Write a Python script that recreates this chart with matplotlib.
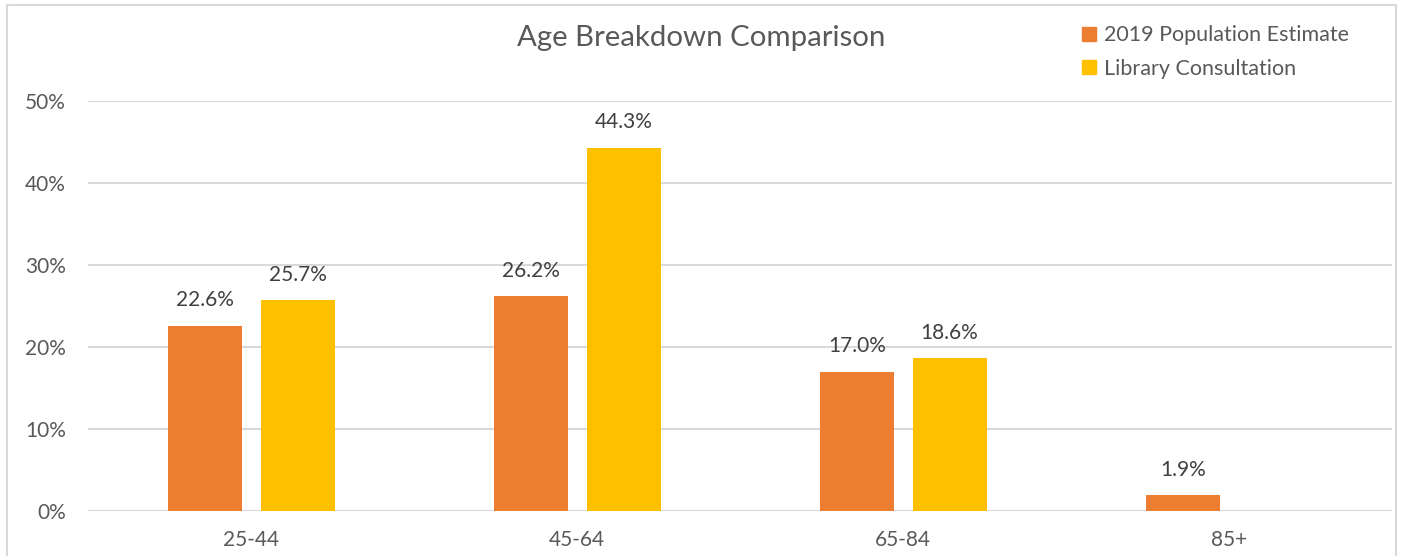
import numpy as np
import matplotlib.pyplot as plt
from matplotlib.patches import Patch, Rectangle

categories = ['25-44', '45-64', '65-84', '85+']
population = [22.6, 26.2, 17.0, 1.9]
library = [25.7, 44.3, 18.6, np.nan]
series_names = ['2019 Population Estimate', 'Library Consultation']
colors = ['#ED7D31', '#FFC000']
text_color = '#595959'
label_color = '#404040'

plt.rcParams['font.family'] = ['Lato', 'DejaVu Sans']

fig = plt.figure(figsize=(14.02, 5.56), dpi=100)
ax = fig.add_axes([88 / 1402, 1 - 511 / 556, (1392 - 88) / 1402, (511 - 101) / 556])

x = np.arange(len(categories))
w = 0.227
b1 = ax.bar(x - 0.142, np.array(population) / 100, w, color=colors[0], zorder=3)
b2 = ax.bar(x + 0.143, np.nan_to_num(library) / 100, w, color=colors[1], zorder=3)

ax.bar_label(b1, labels=[f'{v:.1f}%' for v in population], padding=11,
             fontsize=15, color=label_color)
ax.bar_label(b2, labels=['' if np.isnan(v) else f'{v:.1f}%' for v in library],
             padding=11, fontsize=15, color=label_color)

ax.set_xlim(-0.5, len(categories) - 0.5)
ax.set_ylim(0, 0.5)
ax.set_yticks(np.arange(0, 0.51, 0.1))
ax.set_yticklabels([f'{int(round(t * 100))}%' for t in np.arange(0, 0.51, 0.1)])
ax.set_xticks(x)
ax.set_xticklabels(categories)
ax.tick_params(axis='both', length=0, labelsize=15, colors=text_color)
ax.tick_params(axis='x', pad=14)
ax.tick_params(axis='y', pad=16)
ax.grid(axis='y', color='#d9d9d9', linewidth=1.5, zorder=0)
for s in ax.spines.values():
    s.set_visible(False)

fig.text(0.5, 1 - 38 / 556, 'Age Breakdown Comparison', ha='center', va='center',
         fontsize=21.2, color=text_color)

handles = [Patch(color=c, label=n) for c, n in zip(colors, series_names)]
fig.legend(handles=handles, loc='upper left', bbox_to_anchor=(1063 / 1402, 1 - 6 / 556),
           frameon=False, fontsize=15.5, labelcolor=text_color, handlelength=0.65,
           handleheight=0.65, handletextpad=0.35, labelspacing=0.62)

fig.patches.append(Rectangle((7 / 1402, -0.05), (1396 - 7) / 1402, 1.05 - 5 / 556,
                             transform=fig.transFigure, fill=False,
                             edgecolor='#d9d9d9', linewidth=1.5))

fig.savefig('out.png', dpi=100)
